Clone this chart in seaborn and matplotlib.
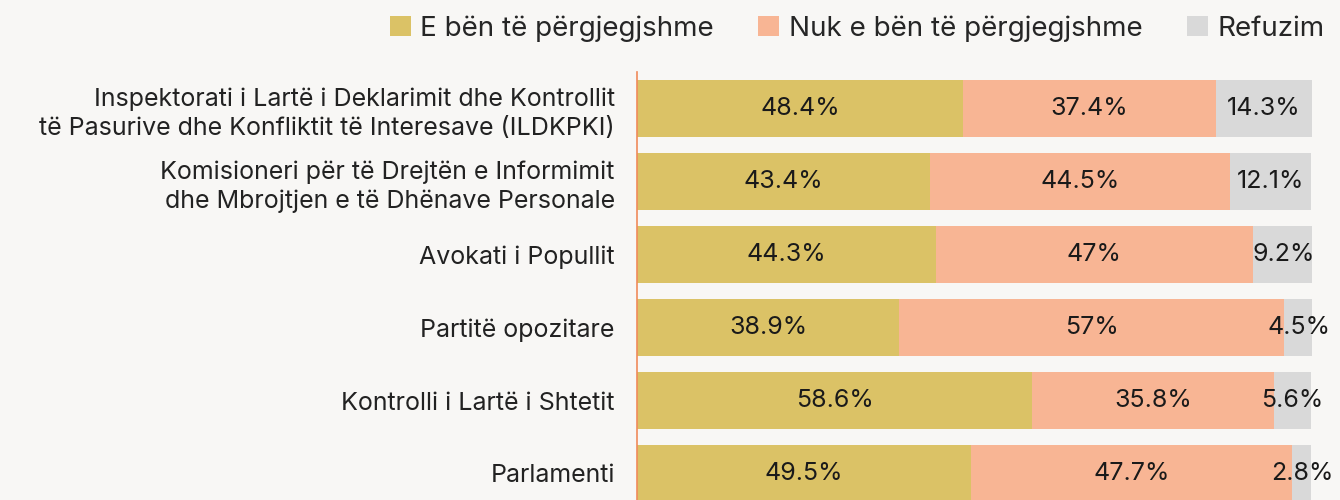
import matplotlib
matplotlib.use("Agg")
import matplotlib.pyplot as plt
import seaborn as sns
import numpy as np
import pandas as pd
from matplotlib.patches import Patch

categories = [
    "Inspektorati i Lartë i Deklarimit dhe Kontrollit\ntë Pasurive dhe Konfliktit të Interesave (ILDKPKI)",
    "Komisioneri për të Drejtën e Informimit\ndhe Mbrojtjen e të Dhënave Personale",
    "Avokati i Popullit",
    "Partitë opozitare",
    "Kontrolli i Lartë i Shtetit",
    "Parlamenti",
]
po = [48.4, 43.4, 44.3, 38.9, 58.6, 49.5]
jo = [37.4, 44.5, 47.0, 57.0, 35.8, 47.7]
refuzim = [14.3, 12.1, 9.2, 4.5, 5.6, 2.8]
series_names = ["E bën të përgjegjshme", "Nuk e bën të përgjegjshme", "Refuzim"]
colors = ["#dbc266", "#f8b594", "#d9d9d9"]

BG = "#f8f7f5"
sns.set_theme(style="white")
plt.rcParams["font.family"] = ["Inter", "DejaVu Sans"]

fig = plt.figure(figsize=(13.4, 5.0), dpi=100, facecolor=BG)
ax = fig.add_axes([637/1340, -10/500, (1312-637)/1340, 438/500])
ax.set_facecolor(BG)

df = pd.DataFrame({"cat": categories, "a": po, "b": jo, "c": refuzim})
df["ab"] = df["a"] + df["b"]
df["abc"] = df["ab"] + df["c"]

for col, colr in zip(["abc", "ab", "a"], colors[::-1]):
    sns.barplot(data=df, x=col, y="cat", orient="h", color=colr, width=0.78,
                saturation=1, ax=ax, linewidth=0)

ax.set_xlim(0, 100.1)
ax.set_ylim(5.5, -0.5)
ax.set_xlabel("")
ax.set_ylabel("")
ax.set_xticks([])
ax.set_yticks(range(len(categories)))
ax.set_yticklabels(categories, linespacing=1.3, ha="right")
for s in ["top", "right", "bottom"]:
    ax.spines[s].set_visible(False)
ax.spines["left"].set_color("#f08a5b")
ax.spines["left"].set_linewidth(1.2)
ax.tick_params(axis="y", length=0, pad=16, labelsize=18, colors="#222222")

def fmt(v):
    return f"{v:g}%"

for i in range(len(categories)):
    starts = [0, po[i], po[i] + jo[i]]
    vals = [po[i], jo[i], refuzim[i]]
    for s, v in zip(starts, vals):
        ax.text(s + v / 2, i, fmt(v), ha="center", va="center",
                fontsize=18, color="#1a1a1a")

handles = [Patch(facecolor=c, edgecolor="none", label=n) for c, n in zip(colors, series_names)]
fig.legend(handles=handles, loc="upper right", bbox_to_anchor=(1.0, 1.0), ncol=3,
           frameon=False, fontsize=20, handlelength=0.75, handleheight=0.75,
           handletextpad=0.35, columnspacing=1.6, borderaxespad=0.15)

fig.savefig("out.png", dpi=100, facecolor=BG)
